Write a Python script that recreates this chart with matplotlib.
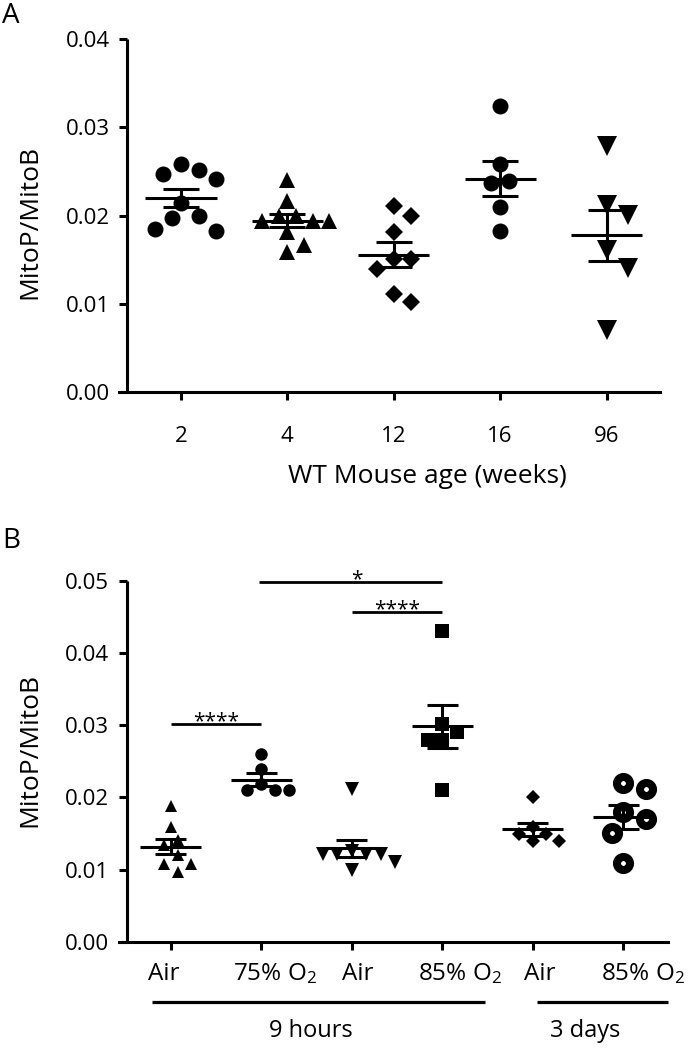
import matplotlib

matplotlib.use("Agg")
import matplotlib.pyplot as plt
import matplotlib.transforms as mtransforms
import numpy as np

W, H = 688, 1051

# Panel A: MitoP/MitoB by mouse age
AGE_LABELS = ["2", "4", "12", "16", "96"]
age_2 = [0.0258, 0.0252, 0.0247, 0.0241, 0.0214, 0.0199, 0.0197, 0.0185, 0.0183]
age_4 = [0.0240, 0.0216, 0.0199, 0.0199, 0.0194, 0.0194, 0.0194, 0.0181, 0.0167, 0.0159]
age_12 = [0.0211, 0.0200, 0.0181, 0.0151, 0.0151, 0.0140, 0.0111, 0.0102]
age_16 = [0.0324, 0.0258, 0.0239, 0.0237, 0.0210, 0.0183]
age_96 = [0.0279, 0.0212, 0.0201, 0.0161, 0.0141, 0.0071]

# Panel B: hyperoxia exposure
EXPOSURE_LABELS = ["Air", "75% O$_2$", "Air", "85% O$_2$", "Air", "85% O$_2$"]
DURATION_LABELS = ["9 hours", "3 days"]
air_9h_a = [0.0188, 0.0159, 0.0141, 0.0134, 0.0120, 0.0108, 0.0108, 0.0097]
o2_75_9h = [0.0260, 0.0240, 0.0219, 0.0210, 0.0210, 0.0210]
air_9h_b = [0.0211, 0.0126, 0.0122, 0.0122, 0.0122, 0.0122, 0.0111, 0.0099]
o2_85_9h = [0.0431, 0.0302, 0.0290, 0.0279, 0.0279, 0.0210]
air_3d = [0.0200, 0.0159, 0.0149, 0.0149, 0.0139, 0.0139]
o2_85_3d = [0.0220, 0.0211, 0.0180, 0.0170, 0.0150, 0.0109]

# significance brackets: (from group, to group, height, stars)
SIG_FROM = [0, 1, 2]
SIG_TO = [1, 3, 3]
SIG_Y = [0.0302, 0.0499, 0.0457]
SIG_TEXT = ["****", "*", "****"]

LW = 2.2


def px2fig(x, y):
    return x / W, 1 - y / H


def swarm_x(ax, x0, vals, diam_pt):
    # simple deterministic swarm so markers don't sit on top of each other
    d = diam_pt * ax.figure.dpi / 72
    mind = d * 1.08
    step = d * 0.55
    ppu = ax.transData.transform((1, 0))[0] - ax.transData.transform((0, 0))[0]
    placed = []
    xs = []
    for v in vals:
        ypx = ax.transData.transform((x0, v))[1]
        cands = [0.0]
        for k in range(1, 15):
            cands += [k * step, -k * step]
        for c in cands:
            if all(np.hypot(c - px, ypx - py) >= mind for px, py in placed):
                break
        placed.append((c, ypx))
        xs.append(x0 + c / ppu)
    return np.array(xs)


def mean_sem(ax, x0, vals, half=0.335, cap=0.17):
    vals = np.asarray(vals)
    m = vals.mean()
    sem = vals.std(ddof=1) / np.sqrt(len(vals))
    kw = dict(color="black", lw=LW, zorder=5, solid_capstyle="butt")
    ax.plot([x0 - half, x0 + half], [m, m], **kw)
    ax.plot([x0, x0], [m - sem, m + sem], **kw)
    ax.plot([x0 - cap, x0 + cap], [m + sem, m + sem], **kw)
    ax.plot([x0 - cap, x0 + cap], [m - sem, m - sem], **kw)


def style_axes(ax, spine_frac):
    for s in ["top", "right"]:
        ax.spines[s].set_visible(False)
    ax.spines["left"].set_position(("axes", spine_frac))
    ax.spines["left"].set_linewidth(LW)
    ax.spines["bottom"].set_linewidth(LW)
    ax.spines["left"].set_capstyle("butt")
    ax.tick_params(axis="both", direction="out", length=6, width=LW, labelsize=16)
    ax.tick_params(axis="y", pad=6.5)


def panel_a(fig):
    x0, y0 = px2fig(118.5, 392.3)
    x1, y1 = px2fig(660, 38.7)
    ax = fig.add_axes([x0, y0, x1 - x0, y1 - y0])
    ax.set_xlim(-0.587, 4.502)
    ax.set_ylim(0, 0.04)
    style_axes(ax, (127.2 - 118.5) / (660 - 118.5))
    ax.set_yticks([0, 0.01, 0.02, 0.03, 0.04])
    ax.set_yticklabels(["0.00", "0.01", "0.02", "0.03", "0.04"])
    ax.set_xticks(range(len(AGE_LABELS)))
    ax.set_xticklabels(AGE_LABELS)
    ax.tick_params(axis="x", pad=18)

    groups = [age_2, age_4, age_12, age_16, age_96]
    markers = ["o", "^", "D", "o", "v"]
    sizes = [11.5, 11, 9.3, 11.5, 14]
    for i, (vals, mk, ms) in enumerate(zip(groups, markers, sizes)):
        d = ms * 1.2 if mk == "D" else ms
        xs = swarm_x(ax, i, vals, d)
        ax.plot(xs, vals, ls="none", marker=mk, ms=ms, color="black", mew=0, zorder=3, clip_on=False)
        mean_sem(ax, i, vals)

    fig.text(*px2fig(427, 483), "WT Mouse age (weeks)", fontsize=19, ha="center", va="baseline")
    fig.text(*px2fig(30, 221.7), "MitoP/MitoB", fontsize=19, ha="center", va="center", rotation=90)
    fig.text(*px2fig(2, 23), "A", fontsize=20, ha="left", va="baseline")
    return ax


def panel_b(fig):
    x0, y0 = px2fig(118.7, 941.7)
    x1, y1 = px2fig(668.3, 581)
    ax = fig.add_axes([x0, y0, x1 - x0, y1 - y0])
    ax.set_xlim(-0.575, 5.498)
    ax.set_ylim(0, 0.05)
    style_axes(ax, (126.7 - 118.7) / (668.3 - 118.7))
    ax.set_yticks([0, 0.01, 0.02, 0.03, 0.04, 0.05])
    ax.set_yticklabels(["0.00", "0.01", "0.02", "0.03", "0.04", "0.05"])
    ax.set_xticks(range(len(EXPOSURE_LABELS)))
    ax.set_xticklabels([])

    groups = [air_9h_a, o2_75_9h, air_9h_b, o2_85_9h, air_3d, o2_85_3d]
    markers = ["^", "o", "v", "s", "D", "o"]
    sizes = [9, 9, 9.5, 9.4, 7.3, 9.4]
    for i, (vals, mk, ms) in enumerate(zip(groups, markers, sizes)):
        if i == 5:
            xs = swarm_x(ax, i, vals, 15)
            ax.plot(xs, vals, ls="none", marker=mk, ms=ms, mfc="white", mec="black", mew=5.8, zorder=3)
        else:
            d = ms * 1.2 if mk == "D" else ms
            xs = swarm_x(ax, i, vals, d)
            ax.plot(xs, vals, ls="none", marker=mk, ms=ms, color="black", mew=0, zorder=3)
        mean_sem(ax, i, vals)

    # significance bars
    for a, b, y, t in zip(SIG_FROM, SIG_TO, SIG_Y, SIG_TEXT):
        xa = a - 0.02 if t == "*" else a
        ax.plot([xa, b], [y, y], color="black", lw=2, solid_capstyle="butt", clip_on=False)
        xm = (xa + b) / 2 + (0.07 if t == "*" else 0.0)
        ax.annotate(t, (xm, y), xytext=(0, -3), textcoords="offset pixels",
                    ha="center", va="baseline", fontsize=15, annotation_clip=False)

    # category labels under the axis
    nudge = [-0.074, 0.155, 0.07, 0.2, 0.08, 0.22]
    trans = mtransforms.blended_transform_factory(ax.transData, fig.transFigure)
    ybase = px2fig(0, 980)[1]
    for i, lab in enumerate(EXPOSURE_LABELS):
        ax.text(i + nudge[i], ybase, lab, transform=trans, ha="center", va="baseline", fontsize=17.5)

    # duration brackets
    yline = px2fig(0, 1002)[1]
    ytext = px2fig(0, 1037)[1]
    spans = [(-0.208, 3.473), (4.048, 5.50)]
    for (sa, sb), lab in zip(spans, DURATION_LABELS):
        ax.plot([sa, sb], [yline, yline], transform=trans, color="black", lw=2.3,
                solid_capstyle="butt", clip_on=False)
    ax.text(1.55, ytext, DURATION_LABELS[0], transform=trans, ha="center", va="baseline", fontsize=17)
    ax.text(4.58, ytext, DURATION_LABELS[1], transform=trans, ha="center", va="baseline", fontsize=17)

    fig.text(*px2fig(30, 750), "MitoP/MitoB", fontsize=19, ha="center", va="center", rotation=90)
    fig.text(*px2fig(2, 548), "B", fontsize=20, ha="left", va="baseline")
    return ax


def main():
    plt.rcParams["font.family"] = ["Open Sans", "DejaVu Sans"]
    plt.rcParams["mathtext.fontset"] = "custom"
    plt.rcParams["mathtext.rm"] = "Open Sans"
    plt.rcParams["mathtext.it"] = "Open Sans"
    plt.rcParams["mathtext.default"] = "rm"

    fig = plt.figure(figsize=(W / 100, H / 100), dpi=100)
    panel_a(fig)
    panel_b(fig)
    fig.savefig("out.png", dpi=100)
    plt.close(fig)


if __name__ == "__main__":
    main()
